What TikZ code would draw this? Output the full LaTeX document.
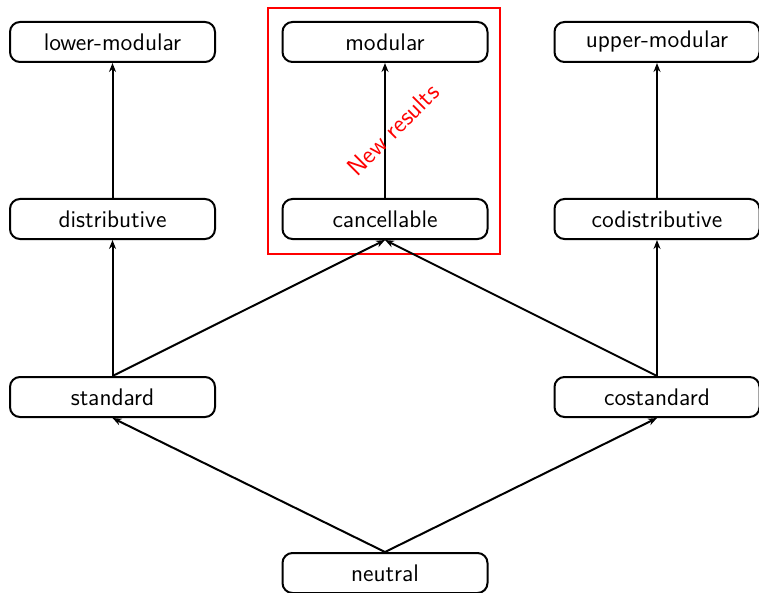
\documentclass[tikz,border=0pt]{standalone}
\usetikzlibrary{arrows.meta}
\begin{document}
\begin{tikzpicture}[x=1pt,y=1pt,
  box/.style={draw, line width=1pt, rounded corners=5pt, minimum width=102.5pt, minimum height=20pt, inner sep=0pt, font=\sffamily\fontsize{12}{14}\selectfont},
  link/.style={line width=1pt, -{Stealth[length=4.5pt,width=3.5pt]}}]
\useasboundingbox (0,0) rectangle (379.5,-296.5);
\node[box] (lm) at (56.25,-21) {lower-modular};
\node[box] (m) at (192.5,-21) {modular};
\node[box] (um) at (328.5,-21) {upper-modular};
\node[box] (d) at (56.25,-109.5) {distributive};
\node[box] (c) at (192.5,-109.5) {cancellable};
\node[box] (cd) at (328.5,-109.5) {codistributive};
\node[box] (s) at (56.25,-198.5) {standard};
\node[box] (cs) at (328.5,-198.5) {costandard};
\node[box] (n) at (192.5,-286.5) {neutral};
\draw[red, line width=1pt] (134,-4) rectangle (250,-127);
\draw[link] (d.north) -- (lm.south);
\draw[link] (c.north) -- (m.south);
\draw[link] (cd.north) -- (um.south);
\draw[link] (s.north) -- (d.south);
\draw[link] (cs.north) -- (cd.south);
\draw[link] (s.north) -- (c.south);
\draw[link] (cs.north) -- (c.south);
\draw[link] (n.north) -- (s.south);
\draw[link] (n.north) -- (cs.south);
\node[red, rotate=45, font=\sffamily\fontsize{12.5}{14}\selectfont] (nr) at (196.5,-65) {New results};
\end{tikzpicture}
\end{document}
